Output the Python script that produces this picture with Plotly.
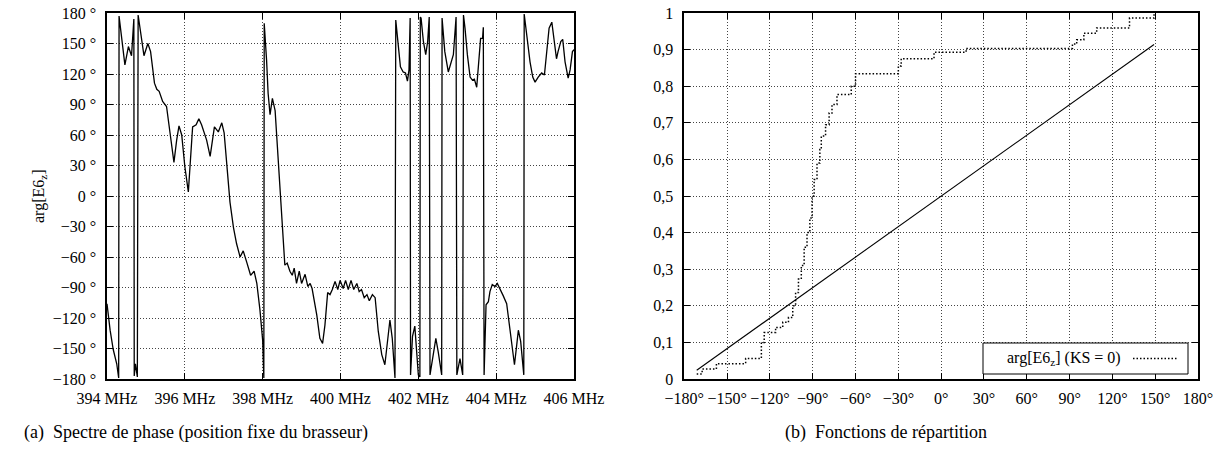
import plotly.graph_objects as go

# ---------------- data: (a) phase spectrum ----------------
freq_mhz = [
    394.00, 394.08, 394.16, 394.25, 394.30, 394.31, 394.46, 394.55, 394.63, 394.69,
    394.70, 394.73, 394.78, 394.80, 394.95, 395.05, 395.12, 395.22, 395.28, 395.34,
    395.43, 395.53, 395.62, 395.72, 395.79, 395.85, 395.92, 396.00, 396.09, 396.15,
    396.20, 396.29, 396.36, 396.43, 396.49, 396.56, 396.65, 396.71, 396.76, 396.86,
    396.95, 397.01, 397.14, 397.16, 397.25, 397.33, 397.42, 397.50, 397.59, 397.69,
    397.78, 397.85, 397.93, 398.00, 398.03, 398.04, 398.10, 398.14, 398.19, 398.25,
    398.32, 398.40, 398.49, 398.57, 398.63, 398.70, 398.76, 398.81, 398.87, 398.94,
    399.00, 399.09, 399.16, 399.22, 399.27, 399.39, 399.47, 399.54, 399.60, 399.67,
    399.73, 399.79, 399.86, 399.93, 399.99, 400.07, 400.13, 400.20, 400.27, 400.34,
    400.42, 400.48, 400.54, 400.61, 400.68, 400.74, 400.82, 400.89, 400.97, 401.06,
    401.14, 401.21, 401.27, 401.33, 401.40, 401.42, 401.48, 401.54, 401.61, 401.67,
    401.72, 401.76, 401.79, 401.80, 401.85, 401.91, 402.00, 402.04, 402.05, 402.07,
    402.13, 402.19, 402.24, 402.28, 402.30, 402.38, 402.45, 402.51, 402.60, 402.61,
    402.68, 402.77, 402.83, 402.90, 402.97, 402.99, 403.07, 403.14, 403.16, 403.20,
    403.26, 403.33, 403.39, 403.44, 403.50, 403.56, 403.60, 403.65, 403.67, 403.69,
    403.74, 403.80, 403.84, 403.90, 403.97, 404.03, 404.10, 404.18, 404.27, 404.34,
    404.40, 404.47, 404.53, 404.57, 404.63, 404.68, 404.71, 404.72, 404.78, 404.87,
    404.94, 405.00, 405.08, 405.17, 405.24, 405.30, 405.36, 405.43, 405.49, 405.55,
    405.59, 405.66, 405.71, 405.77, 405.85, 405.90, 405.96, 406.00,
]
phase_deg = [
    -106, -132, -151, -165, -179, 177, 129, 147, 138, 174,
    -177, -165, -178, 178, 138, 150, 142, 111, 105, 103,
    93, 88, 62, 33, 55, 69, 60, 29, 4, 39,
    68, 70, 76, 70, 62, 55, 39, 55, 68, 63,
    72, 62, 3, -6, -31, -47, -60, -54, -65, -78,
    -74, -86, -112, -142, -179, 170, 134, 101, 80, 96,
    84, 34, -22, -68, -66, -74, -78, -71, -86, -74,
    -86, -77, -89, -86, -91, -117, -140, -145, -127, -95,
    -97, -92, -84, -92, -83, -91, -83, -92, -83, -92,
    -86, -94, -92, -100, -97, -103, -97, -100, -133, -156,
    -166, -140, -122, -140, -179, 173, 152, 127, 122, 121,
    113, 124, 175, -176, -138, -128, -176, -178, 176, 175,
    152, 139, 152, 176, -176, -155, -140, -153, -176, 175,
    142, 122, 130, 139, 176, -176, -160, -176, 178, 165,
    139, 117, 114, 115, 107, 135, 155, 155, 166, -176,
    -107, -104, -94, -87, -89, -86, -91, -98, -106, -127,
    -150, -166, -146, -132, -143, -160, -176, 179, 158, 132,
    117, 112, 117, 121, 119, 139, 165, 171, 155, 135,
    142, 152, 154, 132, 116, 124, 142, 144,
]
freq_ticks = [394, 396, 398, 400, 402, 404, 406]
freq_tick_labels = ["394 MHz", "396 MHz", "398 MHz", "400 MHz", "402 MHz", "404 MHz", "406 MHz"]
phase_ticks = [-180, -150, -120, -90, -60, -30, 0, 30, 60, 90, 120, 150, 180]
phase_tick_labels = ["\u2212180 °", "\u2212150 °", "\u2212120 °", "\u221290 °", "\u221260 °", "\u221230 °",
                     "0 °", "30 °", "60 °", "90 °", "120 °", "150 °", "180 °"]

# ---------------- data: (b) distribution functions ----------------
ecdf_phase = [-171.3, -167.5, -157.5, -137.0, -126.0, -124.0, -116.0, -111.0, -107.0, -104.0,
              -102.0, -100.0, -98.0, -96.0, -94.0, -92.0, -90.5, -89.0, -87.0, -85.0,
              -84.0, -81.0, -78.5, -76.5, -73.0, -63.0, -60.0, -30.0, -28.0, -5.0,
              17.5, 92.0, 95.0, 100.0, 109.0, 132.0, 149.2]
ecdf_prob = [0.014, 0.027, 0.042, 0.056, 0.100, 0.127, 0.141, 0.155, 0.168, 0.200,
             0.236, 0.273, 0.310, 0.360, 0.400, 0.440, 0.500, 0.545, 0.590, 0.627,
             0.664, 0.695, 0.727, 0.750, 0.777, 0.800, 0.834, 0.855, 0.875, 0.893,
             0.903, 0.915, 0.927, 0.945, 0.959, 0.986, 1.000]
uniform_phase = [-171.3, 149.2]
uniform_prob = [0.024, 0.914]
angle_ticks = [-180, -150, -120, -90, -60, -30, 0, 30, 60, 90, 120, 150, 180]
angle_tick_labels = ["\u2212180°", "\u2212150°", "\u2212120°", "\u221290°", "\u221260°", "\u221230°",
                     "0°", "30°", "60°", "90°", "120°", "150°", "180°"]
prob_ticks = [0, 0.1, 0.2, 0.3, 0.4, 0.5, 0.6, 0.7, 0.8, 0.9, 1]
prob_tick_labels = ["0", "0,1", "0,2", "0,3", "0,4", "0,5", "0,6", "0,7", "0,8", "0,9", "1"]

W, H = 1221, 462
FONT = "Liberation Serif"
DOTS = "1px,2px"
LINE_DOTS = "1.5px,2px"

fig = go.Figure()
fig.add_trace(go.Scatter(x=freq_mhz, y=phase_deg, mode="lines",
                         line=dict(color="black", width=1.3), xaxis="x", yaxis="y",
                         showlegend=False, hoverinfo="skip"))
fig.add_trace(go.Scatter(x=uniform_phase, y=uniform_prob, mode="lines",
                         line=dict(color="black", width=1.1), xaxis="x2", yaxis="y2",
                         showlegend=False, hoverinfo="skip"))
fig.add_trace(go.Scatter(x=ecdf_phase, y=ecdf_prob, mode="lines",
                         line=dict(color="black", width=1.5, dash=LINE_DOTS, shape="hv"),
                         xaxis="x2", yaxis="y2", showlegend=False, hoverinfo="skip"))

ax = dict(showline=True, linecolor="black", linewidth=1.5, mirror="ticks",
          ticks="inside", ticklen=6, tickcolor="black", tickwidth=1,
          showgrid=True, gridcolor="#444", griddash=DOTS, gridwidth=1,
          zeroline=False, tickfont=dict(family=FONT, size=16, color="black"),
          fixedrange=True, automargin=False, tickangle=0)

ybot = (H - 379) / H
ytop = (H - 13) / H

fig.update_layout(
    template="none",
    width=W, height=H, margin=dict(l=0, r=0, t=0, b=0, autoexpand=False),
    paper_bgcolor="white", plot_bgcolor="white",
    xaxis=dict(ax, domain=[107 / W, 574 / W], range=[394, 406],
               tickvals=freq_ticks, ticktext=freq_tick_labels, anchor="y", ticklabelstandoff=4),
    yaxis=dict(ax, domain=[ybot, ytop], range=[-180, 180],
               tickvals=phase_ticks, ticktext=phase_tick_labels, anchor="x", ticklabelstandoff=6),
    xaxis2=dict(ax, domain=[684.3 / W, 1198 / W], range=[-180, 180],
                tickvals=angle_ticks, ticktext=angle_tick_labels, anchor="y2", ticklabelstandoff=4),
    yaxis2=dict(ax, domain=[ybot, ytop], range=[0, 1],
                tickvals=prob_ticks, ticktext=prob_tick_labels, anchor="x2", ticklabelstandoff=6),
    showlegend=False,
)

def px(x):
    return x / W

def py(y):
    return (H - y) / H

def note(text, x, y, size, xanchor="center", angle=0):
    fig.add_annotation(text=text, x=px(x), y=py(y), xref="paper", yref="paper",
                       xanchor=xanchor, yanchor="middle", textangle=angle, showarrow=False,
                       font=dict(family=FONT, size=size, color="black"))

# y-axis title of (a)
note("arg[E6<sub>z</sub>]", 40, 196, 16, angle=-90)

# captions
note("(a)  Spectre de phase (position fixe du brasseur)", 196, 432, 18)
note("(b)  Fonctions de répartition", 886, 432, 18)

# legend box of (b)
fig.add_shape(type="rect", xref="paper", yref="paper", x0=px(983), x1=px(1188), y0=py(374), y1=py(343),
              line=dict(color="black", width=1), fillcolor="white", layer="above")
note("arg[E6<sub>z</sub>] (KS = 0)", 1123, 358, 16, xanchor="right")
fig.add_shape(type="line", xref="paper", yref="paper", x0=px(1133), x1=px(1177), y0=py(358.5), y1=py(358.5),
              line=dict(color="black", width=1.5, dash=LINE_DOTS), layer="above")

fig.write_html("out.html", config={"displayModeBar": False},
               post_script="document.body.style.margin='0';")
